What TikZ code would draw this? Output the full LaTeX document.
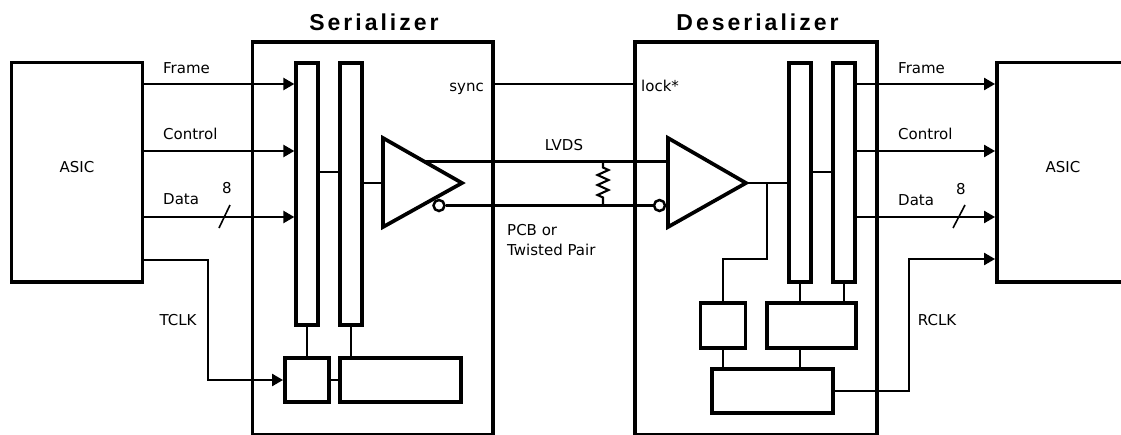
\documentclass[tikz,border=0pt]{standalone}
\usepackage{fontspec}
\setmainfont{DejaVu Sans}
\newfontfamily\titlefont[LetterSpace=13]{Liberation Sans}
\usetikzlibrary{arrows.meta,calc}
\begin{document}
\begin{tikzpicture}[x=1pt,y=-1pt,
  box/.style={draw, rectangle, line width=3.9pt, inner sep=0pt},
  bar/.style={draw, rectangle, line width=3.3pt, inner sep=0pt, minimum width=22pt},
  thickline/.style={line width=3.7pt, line join=miter},
  wire/.style={line width=2.4pt},
  arr/.style={wire, -{Triangle[length=11pt,width=12pt]}},
  bubble/.style={circle, draw, line width=2.5pt, fill=white, minimum size=11pt, inner sep=0pt},
  lbl/.style={font=\fontsize{15pt}{18pt}\selectfont, inner sep=0pt},
  ttl/.style={font=\fontsize{23pt}{26pt}\selectfont\titlefont\bfseries, inner sep=0pt}]
\useasboundingbox (0,0) rectangle (1121,434);
% boxes
\node[box, minimum width=131pt, minimum height=219.5pt] (asicL) at (77,172.25) {};
\node[box, minimum width=138pt, minimum height=219.5pt] (asicR) at (1066,172.25) {};
\node[box, minimum width=240.5pt, minimum height=393pt] (ser) at (372.75,238.5) {};
\node[box, minimum width=242pt, minimum height=393pt] (des) at (756,238.5) {};
\node[bar, minimum height=262pt] (sb1) at (307,194) {};
\node[bar, minimum height=262pt] (sb2) at (351,194) {};
\node[box, minimum width=44pt, minimum height=44pt] (ssm) at (307,380) {};
\node[box, minimum width=121pt, minimum height=44pt] (slg) at (400.5,380) {};
\node[bar, minimum height=219pt] (db1) at (800,172.5) {};
\node[bar, minimum height=219pt] (db2) at (844,172.5) {};
\node[box, minimum width=45pt, minimum height=45pt] (dsm) at (723,325.5) {};
\node[box, minimum width=89pt, minimum height=45pt] (dmd) at (811.5,325.5) {};
\node[box, minimum width=121pt, minimum height=44pt] (dbt) at (772.5,391) {};
% titles
\node[ttl, anchor=base] (tser) at (374,30) {Serializer};
\node[ttl, anchor=base] (tdes) at (757.5,30) {Deserializer};
% level coordinates
\coordinate (yF) at (0,84);
\coordinate (yC) at (0,151);
\coordinate (yD) at (0,217);
\coordinate (yL) at (0,172);
\coordinate (tk) at (208,260);
\coordinate (rk) at (909,259);
\coordinate (dbr) at (767,183);
\coordinate (dk) at (0,259);
% inputs
\draw[arr] (asicL.east |- yF) -- (sb1.west |- yF);
\draw[arr] (asicL.east |- yC) -- (sb1.west |- yC);
\draw[arr] (asicL.east |- yD) -- (sb1.west |- yD);
\draw[arr] (asicL.east |- tk) -- (tk) |- (ssm.west);
% outputs
\draw[arr] (db2.east |- yF) -- (asicR.west |- yF);
\draw[arr] (db2.east |- yC) -- (asicR.west |- yC);
\draw[arr] (db2.east |- yD) -- (asicR.west |- yD);
\draw[arr] (dbt.east) -| (rk) -- (asicR.west |- rk);
% sync
\draw[wire] (ser.east |- yF) -- (des.west |- yF);
% serializer internals
\coordinate (stT) at (383,138);
\coordinate (stB) at (383,227);
\coordinate (stA) at (462,183);
\draw[thickline] (stT) -- (stA) -- (stB) -- cycle;
\draw[wire] (sb1.east |- yL) -- (sb2.west |- yL);
\draw[wire] (sb2.east |- stA) -- (stT |- stA);
\draw[wire] (sb1.south) -- (ssm.north);
\draw[wire] (sb2.south) -- (sb2.south |- slg.north);
\draw[wire] (ssm.east) -- (slg.west);
% deserializer internals
\coordinate (dtT) at (668,138);
\coordinate (dtB) at (668,227);
\coordinate (dtA) at (746,183);
\draw[thickline] (dtT) -- (dtA) -- (dtB) -- cycle;
\draw[wire] (dtA) -- (db1.west |- dtA);
\draw[wire] (db1.east |- yL) -- (db2.west |- yL);
\draw[wire] (dbr) |- (dsm.north |- dk) -- (dsm.north);
\draw[wire] (db1.south) -- (db1.south |- dmd.north);
\draw[wire] (db2.south) -- (db2.south |- dmd.north);
\draw[wire] (dsm.south) -- (dsm.south |- dbt.north);
\draw[wire] (db1.south |- dmd.south) -- (db1.south |- dbt.north);
% LVDS pair
\coordinate (stU) at ($(stT)!0.522!(stA)$);
\draw[wire] (stU) -- (dtT |- stU);
\node[bubble] (sbub) at (439,205.5) {};
\node[bubble] (dbub) at (659.5,205.5) {};
\draw[wire] (sbub.east) -- (dbub.west);
\coordinate (rT) at (603,161.5);
\coordinate (rB) at (603,205.5);
\draw[wire, line width=2.1pt] (rT) -- ++(0,6) -- ++(5.5,2.5) -- ++(-11,5) -- ++(11,5) -- ++(-11,5) -- ++(11,5) -- ++(-11,5) -- ++(5.5,2.5) -- (rB);
% bus slashes
\draw[line width=1.6pt] (230,205) -- (219,228);
\draw[line width=1.6pt] (965,205) -- (953,228);
% labels
\node[lbl, anchor=base] (aL) at (77,172.5) {ASIC};
\node[lbl, anchor=base] (aR) at (1063,172.5) {ASIC};
\node[lbl, anchor=base west] (lf1) at (163,73.5) {Frame};
\node[lbl, anchor=base west] (lc1) at (163,139.5) {Control};
\node[lbl, anchor=base west] (ld1) at (163,204.5) {Data};
\node[lbl, anchor=base] (l81) at (227,193.5) {8};
\node[lbl, anchor=base west] (lf2) at (898,73.5) {Frame};
\node[lbl, anchor=base west] (lc2) at (898,139) {Control};
\node[lbl, anchor=base west] (ld2) at (898,205) {Data};
\node[lbl, anchor=base] (l82) at (961,194) {8};
\node[lbl, anchor=base] (ltc) at (178,325.5) {TCLK};
\node[lbl, anchor=base] (lrc) at (937,325.5) {RCLK};
\node[lbl, anchor=base east] (lsy) at (484,91) {sync};
\node[lbl, anchor=base west] (llk) at (641,91) {lock*};
\node[lbl, anchor=base] (llv) at (564,150.5) {LVDS};
\node[lbl, anchor=base west] (lp1) at (507,235) {PCB or};
\node[lbl, anchor=base west] (lp2) at (507,255) {Twisted Pair};
\end{tikzpicture}
\end{document}
